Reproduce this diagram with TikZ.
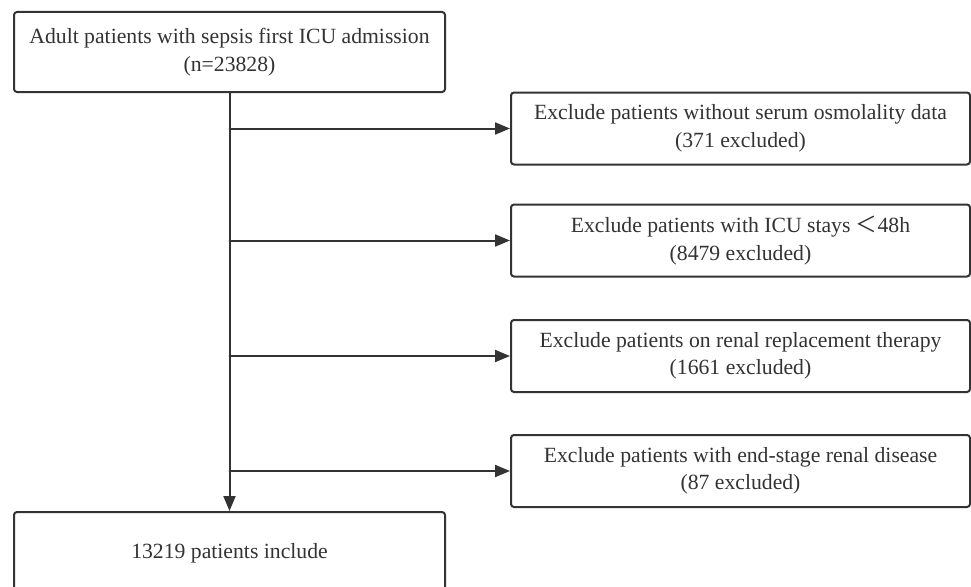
\documentclass[tikz,border=0pt]{standalone}
\usepackage{fontspec}
\setmainfont{Liberation Serif}
\newfontfamily\cjk{Noto Sans CJK SC}
\usepackage{xcolor}
\usetikzlibrary{arrows.meta,positioning}
\definecolor{inkgray}{HTML}{333333}
\begin{document}
\begin{tikzpicture}[x=1pt,y=-1pt,line cap=round,line join=round,
  box/.style={draw=inkgray,line width=2pt,rounded corners=3pt,fill=white,
    text=inkgray,align=center,inner sep=0pt,
    font=\fontsize{21.7}{27.5}\selectfont},
  mainbox/.style={box,minimum width=431pt,minimum height=80pt},
  exclbox/.style={box,minimum width=459pt,minimum height=72pt},
  flow/.style={draw=inkgray,line width=2pt,-{Triangle[length=15pt,width=12pt]}}]
\useasboundingbox (0,0) rectangle (971,586);
% Cohort boxes.
\node[mainbox] (cohort) at (229.5,52) {Adult patients with sepsis first ICU admission\\(n=23828)};
\node[mainbox,minimum height=82pt] (final) at (229.5,553) {13219 patients include};
% Exclusion boxes.
\node[exclbox] (osmo) at (740.5,128.5) {Exclude patients without serum osmolality data\\(371 excluded)};
\node[exclbox] (stay) at (740.5,240.5) {Exclude patients with ICU stays {\cjk ＜}48h\\(8479 excluded)};
\node[exclbox] (rrt) at (740.5,356) {Exclude patients on renal replacement therapy\\(1661 excluded)};
\node[exclbox] (esrd) at (740.5,471) {Exclude patients with end-stage renal disease\\(87 excluded)};
% Trunk and branches.
\draw[flow] (cohort.south) -- (final.north);
\foreach \ex in {osmo,stay,rrt,esrd}
  \draw[flow] (cohort.south |- \ex.west) -- (\ex.west);
\end{tikzpicture}
\end{document}
